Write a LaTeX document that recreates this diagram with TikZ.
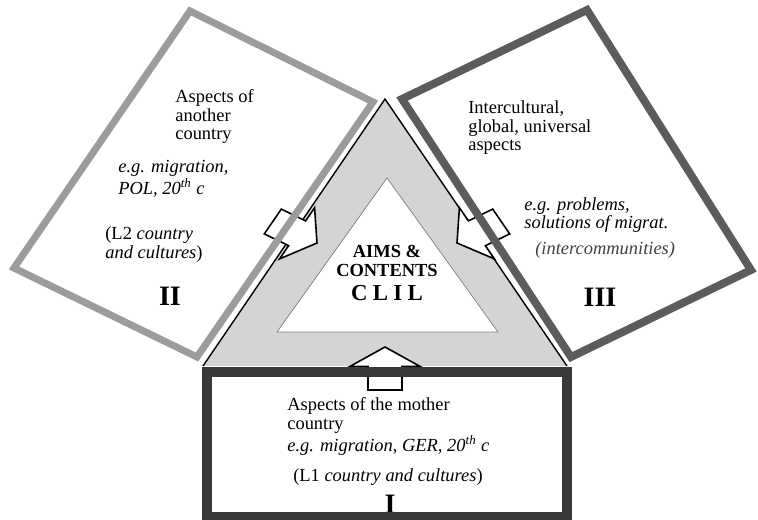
\documentclass[tikz,border=0pt]{standalone}
\usepackage{fontspec}
\setmainfont{Liberation Serif}

\definecolor{trigray}{gray}{0.83}
\definecolor{lightframe}{gray}{0.61}
\definecolor{midframe}{gray}{0.36}
\definecolor{darkframe}{gray}{0.22}

\tikzset{
  boxtext/.style={anchor=west, align=left, inner sep=0pt, font={\fontsize{10.5}{10.5}\selectfont}},
  numeral/.style={inner sep=0pt, font={\fontsize{16}{16}\selectfont\bfseries}},
  blockarrow/.style={draw=black, fill=white, line width=0.9pt, line join=miter},
  frame/.style={line width=#1, line join=miter, fill=white},
}

\begin{document}
\begin{tikzpicture}[x=0.02cm, y=-0.02cm]
\useasboundingbox (0,0) rectangle (758,520);

% outer and inner triangle
\coordinate (apex) at (385,99);
\coordinate (baseL) at (203,366);
\coordinate (baseR) at (567,366);
\coordinate (inapex) at (387,178);
\coordinate (inL) at (277,332);
\coordinate (inR) at (498,332);

\fill[trigray] (apex) -- (baseR) -- (baseL) -- cycle;
\draw[line width=0.8pt, line join=miter] (baseL) -- (apex) -- (baseR);
\filldraw[fill=white, draw=gray, line width=0.4pt] (inapex) -- (inR) -- (inL) -- cycle;

\node[inner sep=0pt, align=center, font={\fontsize{10.5}{10.5}\selectfont\bfseries}] (aims)
  at (387,261) {AIMS \&\\CONTENTS};
\node[inner sep=0pt, font={\fontsize{13}{13}\selectfont\bfseries}] (clil)
  at (387,293) {C\hspace{3pt}L\hspace{3pt}I\hspace{3pt}L};

% block arrows into the triangle
\draw[blockarrow] (317,243) -- (314.6,207.8) -- (305.6,220.9) -- (281.3,209.1)
  -- (264.3,233.9) -- (288.6,245.7) -- (279.6,258.9) -- cycle;
\draw[blockarrow] (457,243) -- (459.4,207.8) -- (468.4,220.9) -- (492.7,209.1)
  -- (509.7,233.9) -- (485.4,245.7) -- (494.4,258.9) -- cycle;
\draw[blockarrow] (385,347) -- (420,366.4) -- (402,366.4) -- (402,390)
  -- (368,390) -- (368,366.4) -- (350,366.4) -- cycle;

% box II
\coordinate (IIt) at (190,11);
\coordinate (IIr) at (373,102);
\coordinate (IIb) at (197,357);
\coordinate (IIl) at (14,268);
\draw[frame=4pt, draw=lightframe, fill=none] (IIt) -- (IIr) -- (IIb) -- (IIl) -- cycle;

\node[boxtext] (twoa) at (175,116.5) {Aspects of\\another\\country};
\node[boxtext, font={\fontsize{10.5}{10.5}\selectfont\itshape}] (twob) at (118,179)
  {e.g. migration,\\POL, 20\textsuperscript{th} c};
\node[boxtext] (twoc) at (105,244.5) {(L2 \textit{country}\\\textit{and cultures})};
\node[numeral] (two) at (170,296) {II};

% box III
\coordinate (IIIt) at (587,10);
\coordinate (IIIr) at (751,270);
\coordinate (IIIb) at (571,357);
\coordinate (IIIl) at (402,99);
\draw[frame=4.5pt, draw=midframe, fill=none] (IIIt) -- (IIIr) -- (IIIb) -- (IIIl) -- cycle;

\node[boxtext] (threea) at (468,128) {Intercultural,\\global, universal\\aspects};
\node[boxtext, font={\fontsize{10.5}{10.5}\selectfont\itshape}] (threeb) at (524,215)
  {e.g. problems,\\solutions of migrat.};
\node[boxtext, text=black!75, font={\fontsize{10.5}{10.5}\selectfont\itshape}] (threec) at (535,250)
  {(intercommunities)};
\node[numeral] (three) at (600,297) {III};

% box I
\node[numeral] (one) at (390,504) {I};
\draw[frame=5.6pt, draw=darkframe, fill=none] (207,372) rectangle (567,517);

\node[boxtext] (onea) at (287,426.5) {Aspects of the mother\\country\\
  \textit{e.g. migration, GER, 20\textsuperscript{th} c}};
\node[inner sep=0pt, font={\fontsize{10.5}{10.5}\selectfont}] (oneb) at (388,477)
  {(L1 \textit{country and cultures})};

\end{tikzpicture}
\end{document}
